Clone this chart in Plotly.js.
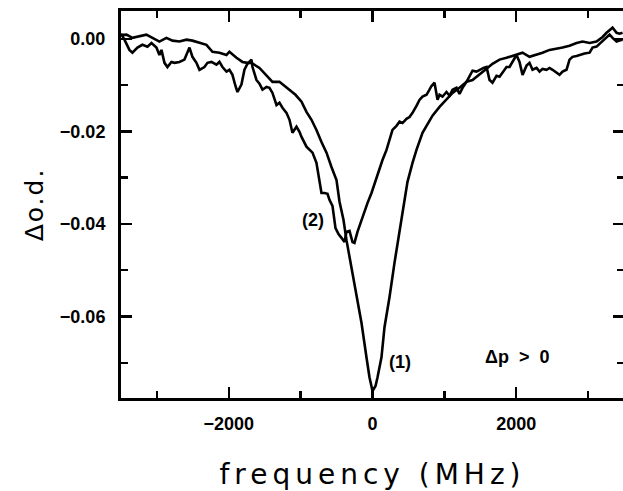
<!DOCTYPE html>
<html>
<head>
<meta charset="utf-8">
<script src="https://cdn.plot.ly/plotly-3.0.1.min.js"></script>
<style>
html, body { margin: 0; padding: 0; background: #fff; overflow: hidden; width: 623px; height: 491px; }
#chart { width: 630px; height: 491px; }
.xtitle { letter-spacing: 5px; }
.ytitle { letter-spacing: 2px; }
</style>
</head>
<body>
<div id="chart"></div>
<script>
// Curve (1): narrow dip centred at 0 MHz
const freq1 = [-3500,-3424,-3341,-3244,-3147,-3062,-2965,-2868,-2784,-2687,-2589,-2506,-2408,-2311,-2227,-2130,-2032,-1991,-1893,-1810,-1740,-1684,-1573,-1489,-1392,-1295,-1225,-1155,-1072,-988,-919,-849,-780,-710,-640,-571,-501,-459,-404,-362,-292,-223,-153,-84,-42,0,42,70,125,167,237,306,376,445,487,557,612,696,766,835,933,1030,1114,1211,1308,1392,1489,1587,1670,1768,1865,1949,2004,2088,2185,2283,2366,2464,2561,2645,2742,2840,2923,3021,3118,3202,3257,3299,3341,3397,3438,3480];
const od1 = [0.0008,0.0009,0.0002,0.0006,0.0009,0.0002,-0.0006,0.0002,-0.0004,-0.0006,-0.0002,-0.0004,-0.0009,-0.0013,-0.0028,-0.0030,-0.0035,-0.0028,-0.0041,-0.0050,-0.0052,-0.0052,-0.0063,-0.0078,-0.0093,-0.0093,-0.0102,-0.0110,-0.0121,-0.0136,-0.0158,-0.0175,-0.0197,-0.0223,-0.0246,-0.0277,-0.0305,-0.0352,-0.0391,-0.0435,-0.0493,-0.0549,-0.0614,-0.0688,-0.0731,-0.0761,-0.0750,-0.0731,-0.0688,-0.0623,-0.0558,-0.0484,-0.0413,-0.0348,-0.0309,-0.0268,-0.0240,-0.0203,-0.0184,-0.0166,-0.0147,-0.0132,-0.0117,-0.0106,-0.0093,-0.0089,-0.0076,-0.0065,-0.0054,-0.0045,-0.0041,-0.0037,-0.0035,-0.0030,-0.0039,-0.0035,-0.0030,-0.0024,-0.0022,-0.0019,-0.0015,-0.0009,-0.0006,-0.0009,-0.0006,0.0004,0.0013,0.0019,0.0024,0.0013,0.0011,0.0013];

// Curve (2): broad, noisy dip centred near -300 MHz
const freq2 = [-3500,-3452,-3383,-3341,-3271,-3202,-3132,-3076,-3007,-2965,-2937,-2895,-2854,-2798,-2756,-2687,-2617,-2575,-2547,-2506,-2450,-2408,-2339,-2297,-2241,-2172,-2130,-2088,-2032,-1991,-1949,-1907,-1879,-1824,-1782,-1740,-1684,-1670,-1615,-1573,-1531,-1475,-1434,-1392,-1336,-1295,-1253,-1197,-1155,-1114,-1058,-1016,-988,-919,-877,-835,-780,-738,-710,-668,-626,-599,-557,-515,-473,-432,-390,-362,-320,-278,-251,-209,-153,-111,-70,-14,28,56,97,139,195,237,278,334,376,418,473,515,557,612,654,696,752,793,821,863,891,905,933,974,1030,1072,1114,1169,1211,1253,1308,1350,1392,1448,1489,1545,1587,1629,1670,1726,1768,1810,1865,1907,1963,2004,2046,2088,2144,2185,2227,2283,2325,2366,2422,2464,2506,2561,2603,2645,2700,2742,2784,2840,2881,2951,3021,3062,3118,3160,3202,3257,3299,3341,3397,3438,3480];
const od2 = [0.0011,-0.0002,-0.0024,-0.0030,-0.0019,-0.0013,-0.0017,-0.0009,-0.0019,-0.0035,-0.0024,-0.0052,-0.0061,-0.0050,-0.0052,-0.0050,-0.0045,-0.0030,-0.0019,-0.0039,-0.0052,-0.0067,-0.0061,-0.0052,-0.0050,-0.0056,-0.0050,-0.0061,-0.0071,-0.0067,-0.0078,-0.0102,-0.0115,-0.0099,-0.0067,-0.0054,-0.0045,-0.0061,-0.0089,-0.0097,-0.0110,-0.0104,-0.0106,-0.0117,-0.0143,-0.0138,-0.0149,-0.0160,-0.0175,-0.0203,-0.0190,-0.0201,-0.0212,-0.0233,-0.0240,-0.0246,-0.0268,-0.0305,-0.0333,-0.0333,-0.0335,-0.0348,-0.0361,-0.0409,-0.0422,-0.0430,-0.0439,-0.0417,-0.0415,-0.0439,-0.0441,-0.0417,-0.0391,-0.0374,-0.0355,-0.0333,-0.0313,-0.0300,-0.0283,-0.0262,-0.0240,-0.0218,-0.0197,-0.0188,-0.0179,-0.0182,-0.0173,-0.0169,-0.0160,-0.0145,-0.0132,-0.0125,-0.0121,-0.0110,-0.0102,-0.0095,-0.0115,-0.0132,-0.0121,-0.0125,-0.0115,-0.0123,-0.0110,-0.0106,-0.0119,-0.0106,-0.0093,-0.0080,-0.0069,-0.0071,-0.0067,-0.0063,-0.0061,-0.0089,-0.0095,-0.0080,-0.0082,-0.0074,-0.0061,-0.0061,-0.0045,-0.0035,-0.0050,-0.0078,-0.0058,-0.0052,-0.0067,-0.0063,-0.0071,-0.0065,-0.0067,-0.0063,-0.0067,-0.0074,-0.0078,-0.0071,-0.0067,-0.0045,-0.0039,-0.0037,-0.0035,-0.0032,-0.0030,-0.0019,-0.0017,-0.0011,-0.0006,0.0002,0.0009,0.0002,-0.0006,-0.0004,-0.0002];

const xTitle = "frequency (MHz)";
const yTitle = "\u0394o.d.";
const labels = ["(2)", "(1)", "\u0394p\u00a0\u00a0>\u00a0\u00a00"];
const labelX = [-835, 376, 2004];
const labelY = [-0.0391, -0.0698, -0.0688];

const lineStyle = {color: "#000", width: 2.6};
const traces = [
  {x: freq1, y: od1, type: "scatter", mode: "lines", line: lineStyle, name: "(1)", showlegend: false, hoverinfo: "skip"},
  {x: freq2, y: od2, type: "scatter", mode: "lines", line: lineStyle, name: "(2)", showlegend: false, hoverinfo: "skip"}
];

const tickFont = {family: "Liberation Sans, Arial, sans-serif", size: 18, color: "#000", weight: "bold"};

const layout = {
  width: 630, height: 491,
  margin: {l: 121, r: 6, t: 11, b: 93},
  paper_bgcolor: "#fff", plot_bgcolor: "#fff",
  showlegend: false,
  xaxis: {
    range: [-3500, 3500], tick0: 0, dtick: 2000,
    showline: true, linecolor: "#000", linewidth: 3, mirror: "ticks",
    ticks: "inside", ticklen: 11, tickwidth: 2.5, tickcolor: "#000",
    minor: {dtick: 1000, ticks: "inside", ticklen: 7, tickwidth: 2.5, tickcolor: "#000", showgrid: false},
    showgrid: false, zeroline: false,
    tickfont: tickFont, ticklabelstandoff: 7,
    title: {text: xTitle, font: {family: "DejaVu Sans, sans-serif", size: 28, color: "#000"}, standoff: 33}
  },
  yaxis: {
    range: [-0.0776, 0.006], tick0: 0, dtick: 0.02, tickformat: ".2f",
    showline: true, linecolor: "#000", linewidth: 3, mirror: "ticks",
    ticks: "inside", ticklen: 11, tickwidth: 2.5, tickcolor: "#000",
    minor: {dtick: 0.01, ticks: "inside", ticklen: 7, tickwidth: 2.5, tickcolor: "#000", showgrid: false},
    showgrid: false, zeroline: false,
    tickfont: tickFont, ticklabelstandoff: 9,
    title: {text: yTitle, font: {family: "DejaVu Sans, sans-serif", size: 25, color: "#000"}, standoff: 10}
  },
  annotations: labels.map((t, i) => ({
    x: labelX[i], y: labelY[i], xref: "x", yref: "y", text: t, showarrow: false,
    font: {family: "Liberation Sans, Arial, sans-serif", size: 18, color: "#000", weight: "bold"}
  }))
};

Plotly.newPlot("chart", traces, layout, {staticPlot: true, displayModeBar: false});
</script>
</body>
</html>
